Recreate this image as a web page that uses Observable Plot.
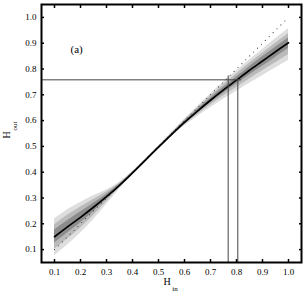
<!DOCTYPE html>
<html>
<head>
<meta charset="utf-8">
<script src="https://cdn.jsdelivr.net/npm/d3@7"></script>
<script src="https://cdn.jsdelivr.net/npm/@observablehq/plot@0.6"></script>
<style>
  html, body { margin: 0; padding: 0; background: #fff; }
  svg text { font-weight: normal; }
</style>
</head>
<body>
<div id="chart"></div>
<script>
// H_in grid
const hIn = [0.1, 0.15, 0.2, 0.25, 0.3, 0.35, 0.4, 0.45, 0.5, 0.55, 0.6, 0.65, 0.7, 0.75, 0.8, 0.85, 0.9, 0.95, 1.0];
// median H_out
const median = [0.150, 0.188, 0.225, 0.264, 0.305, 0.349, 0.397, 0.447, 0.497, 0.546, 0.593, 0.637, 0.679, 0.719, 0.757, 0.795, 0.831, 0.867, 0.902];
// outer (light) band
const lightHi = [0.218, 0.254, 0.283, 0.309, 0.331, 0.361, 0.403, 0.451, 0.501, 0.553, 0.605, 0.655, 0.703, 0.749, 0.792, 0.835, 0.876, 0.917, 0.956];
const lightLo = [0.076, 0.118, 0.163, 0.216, 0.275, 0.335, 0.390, 0.443, 0.493, 0.538, 0.579, 0.616, 0.650, 0.683, 0.714, 0.745, 0.774, 0.804, 0.833];
// middle band
const midHi = [0.196, 0.233, 0.264, 0.294, 0.323, 0.357, 0.401, 0.450, 0.500, 0.551, 0.601, 0.649, 0.695, 0.739, 0.781, 0.822, 0.861, 0.900, 0.937];
const midLo = [0.101, 0.141, 0.183, 0.232, 0.285, 0.340, 0.392, 0.444, 0.494, 0.541, 0.584, 0.623, 0.660, 0.695, 0.728, 0.761, 0.793, 0.824, 0.855];
// inner (dark) band
const darkHi = [0.176, 0.212, 0.246, 0.280, 0.314, 0.353, 0.399, 0.4485, 0.4985, 0.5485, 0.597, 0.643, 0.687, 0.729, 0.769, 0.809, 0.847, 0.884, 0.920];
const darkLo = [0.125, 0.164, 0.203, 0.247, 0.295, 0.344, 0.395, 0.4455, 0.4955, 0.543, 0.588, 0.630, 0.669, 0.706, 0.742, 0.777, 0.811, 0.845, 0.879];
// identity reference (dotted)
const identity = [0.1, 1.0];
// guide lines
const hLineY = [0.758];
const hLineX = [0.05, 0.82];
const vLines = [{x: 0.768, top: 0.773}, {x: 0.805, top: 0.758}];
const axisMin = 0.05;
// ticks
const xTicks = [0.1, 0.2, 0.3, 0.4, 0.5, 0.6, 0.7, 0.8, 0.9, 1.0];
const yTicks = [0.1, 0.2, 0.3, 0.4, 0.5, 0.6, 0.7, 0.8, 0.9, 1.0];

const rows = hIn.map((x, i) => ({
  x, m: median[i],
  lh: lightHi[i], ll: lightLo[i],
  mh: midHi[i], ml: midLo[i],
  dh: darkHi[i], dl: darkLo[i]
}));

const fmt = d3.format(".1f");
const serif = "'Liberation Serif', 'Times New Roman', serif";
const crv = "catmull-rom";

const chart = Plot.plot({
  width: 306,
  height: 297,
  marginLeft: 41,
  marginRight: 5,
  marginTop: 4,
  marginBottom: 35,
  style: { fontFamily: serif, fontSize: "9px", background: "#fff", color: "#000" },
  x: { domain: [0.05, 1.05] },
  y: { domain: [0.05, 1.05] },
  marks: [
    Plot.areaY(rows, { x: "x", y1: "ll", y2: "lh", fill: "#dedede", curve: crv }),
    Plot.areaY(rows, { x: "x", y1: "ml", y2: "mh", fill: "#bababa", curve: crv }),
    Plot.areaY(rows, { x: "x", y1: "dl", y2: "dh", fill: "#8c8c8c", curve: crv }),
    Plot.line(identity, { x: d => d, y: d => d, stroke: "#333", strokeWidth: 1.1, strokeDasharray: "0,5.5", strokeLinecap: "round" }),
    Plot.line(rows, { x: "x", y: "m", stroke: "#000", strokeWidth: 1.7, curve: crv }),
    Plot.ruleY(hLineY, { y: d => d, x1: hLineX[0], x2: hLineX[1], stroke: "#444", strokeWidth: 1 }),
    Plot.ruleX(vLines, { x: "x", y1: axisMin, y2: "top", stroke: "#444", strokeWidth: 1 }),
    Plot.frame({ stroke: "#000", strokeWidth: 2 }),
    // inward ticks on all four sides
    Plot.axisX({ anchor: "bottom", ticks: xTicks, tickSize: 3, dy: -3, fill: "none", strokeWidth: 1.5, label: null }),
    Plot.axisX({ anchor: "top", ticks: xTicks, tickSize: 3, dy: 3, fill: "none", strokeWidth: 1.5, label: null }),
    Plot.axisY({ anchor: "left", ticks: yTicks, tickSize: 3, dx: 3, fill: "none", strokeWidth: 1.5, label: null }),
    Plot.axisY({ anchor: "right", ticks: yTicks, tickSize: 3, dx: -3, fill: "none", strokeWidth: 1.5, label: null }),
    // tick labels
    Plot.axisX({ anchor: "bottom", ticks: xTicks, tickSize: 0, tickPadding: 6, tickFormat: fmt, label: null, fill: "#000" }),
    Plot.axisY({ anchor: "left", ticks: yTicks, tickSize: 0, tickPadding: 5, tickFormat: fmt, label: null, fill: "#000" }),
    // axis titles with subscripts
    Plot.text(["H"], { frameAnchor: "bottom", dx: -4.5, dy: 22, fontSize: 10, fill: "#000" }),
    Plot.text(["in"], { frameAnchor: "bottom", dx: 3.5, dy: 28.5, fontSize: 7, fill: "#000" }),
    Plot.text(["H"], { frameAnchor: "left", dx: -35, dy: 5, rotate: -90, fontSize: 10, fill: "#000" }),
    Plot.text(["out"], { frameAnchor: "left", dx: -26.5, dy: -3, rotate: -90, fontSize: 7, fill: "#000" }),
    // panel label
    Plot.text(["(a)"], { frameAnchor: "top-left", dx: 29, dy: 41, fontSize: 11, fill: "#000" })
  ]
});

document.getElementById("chart").appendChild(chart);
</script>
</body>
</html>
